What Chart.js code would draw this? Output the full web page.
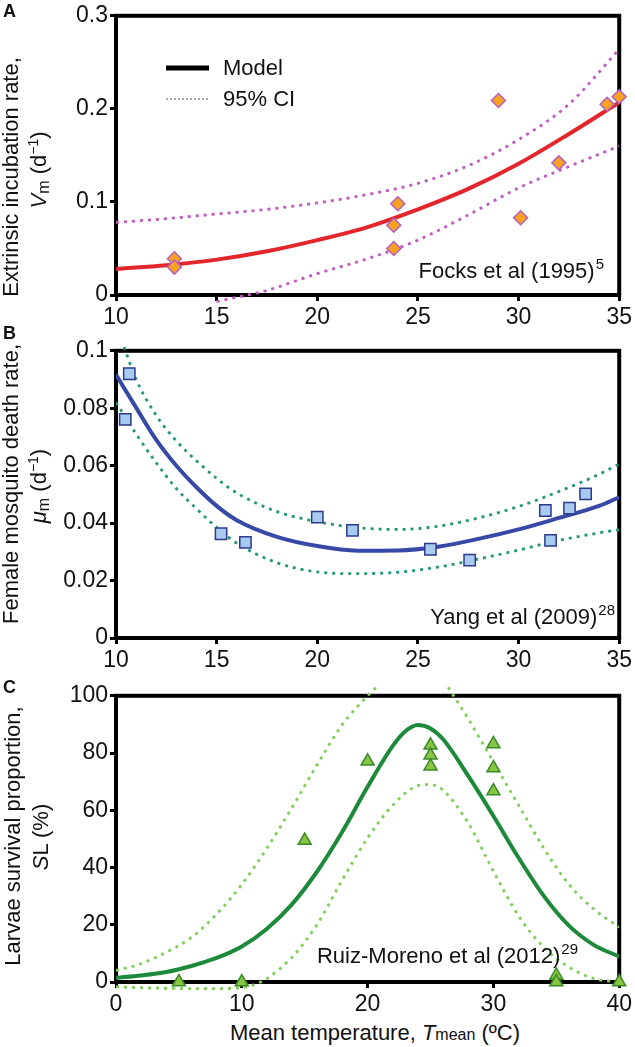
<!DOCTYPE html>
<html>
<head>
<meta charset="utf-8">
<script src="https://cdn.jsdelivr.net/npm/chart.js@4.4.1/dist/chart.umd.min.js"></script>
<style>
  body { margin: 0; background: #fff; }
  #fig { position: relative; width: 635px; height: 1047px; overflow: hidden;
         font-family: "Liberation Sans", Arial, Helvetica, sans-serif; color: #111; }
  canvas { position: absolute; left: 0; }
  .lbl { position: absolute; left: 3px; font-weight: bold; font-size: 18px; line-height: 1; }
  .yt { position: absolute; font-size: 22px; line-height: 1; white-space: nowrap;
        transform: translate(-50%, -50%) rotate(-90deg); }
  .xt { position: absolute; font-size: 22px; line-height: 1; white-space: nowrap;
        transform: translate(-50%, -50%); }
  .sm { font-size: 16px; }
  sup { font-size: 14px; vertical-align: 8px; line-height: 0; }
  sub { font-size: 16px; vertical-align: -3px; line-height: 0; }
</style>
</head>
<body>
<div id="fig">
  <canvas id="chartA" width="635" height="335" style="top:0px"></canvas>
  <canvas id="chartB" width="635" height="345" style="top:335px"></canvas>
  <canvas id="chartC" width="635" height="340" style="top:680px"></canvas>

  <div class="lbl" style="top:2px">A</div>
  <div class="lbl" style="top:324px">B</div>
  <div class="lbl" style="top:678px">C</div>

  <div class="yt" style="left:11px; top:177px">Extrinsic incubation rate,</div>
  <div class="yt" style="left:39px; top:170px"><i>V</i><sub>m</sub> (d<sup>−1</sup>)</div>
  <div class="yt" style="left:11px; top:484px">Female mosquito death rate,</div>
  <div class="yt" style="left:39px; top:486px"><i>μ</i><sub>m</sub> (d<sup>−1</sup>)</div>
  <div class="yt" style="left:13px; top:836px">Larvae survival proportion,</div>
  <div class="yt" style="left:41px; top:837px"><i>S</i>L (%)</div>
  <div class="xt" style="left:375px; top:1033px">Mean temperature, <i>T</i><span class="sm">mean</span> (ºC)</div>
</div>

<script>
const FONT = '"Liberation Sans", Arial, Helvetica, sans-serif';

// Panel A: extrinsic incubation rate, Focks et al (1995)
const aObsT = [12.9, 12.9, 24.0, 23.8, 23.8, 29.0, 30.1, 32.0, 34.4, 35.0];
const aObsV = [0.039, 0.030, 0.098, 0.075, 0.050, 0.209, 0.083, 0.142, 0.205, 0.213];
const aCurveT = [10, 12.5, 15, 17.5, 20, 22.5, 25, 27.5, 30, 32.5, 35];
const aModel = [0.028, 0.032, 0.038, 0.047, 0.059, 0.073, 0.092, 0.114, 0.141, 0.173, 0.207];
const aUpper = [0.078, 0.082, 0.087, 0.092, 0.099, 0.108, 0.120, 0.139, 0.167, 0.205, 0.264];
const aLower = [null, null, -0.007, 0.005, 0.023, 0.039, 0.059, 0.086, 0.115, 0.138, 0.160];
const aXLabels = ['10', '15', '20', '25', '30', '35'];
const aYLabels = ['0', '0.1', '0.2', '0.3'];

// Panel B: female mosquito death rate, Yang et al (2009)
const bObsT = [10.66, 10.46, 15.22, 16.43, 20.0, 21.75, 25.62, 27.57, 31.33, 31.59, 32.53, 33.33];
const bObsV = [0.0920, 0.0761, 0.0363, 0.0333, 0.0421, 0.0375, 0.0309, 0.0271, 0.0444, 0.0340, 0.0452, 0.0502];
const bCurveT = [10, 11, 12, 13, 14, 15, 16, 18, 20, 22, 24, 26, 28, 30, 32, 34, 35];
const bModel = [0.0917, 0.0802, 0.0690, 0.0600, 0.0525, 0.0460, 0.0410, 0.0352, 0.0320, 0.0304, 0.0305, 0.0318, 0.0345, 0.0378, 0.0418, 0.0460, 0.0490];
const bLower = [0.0820, 0.0710, 0.0610, 0.0520, 0.0450, 0.0385, 0.0330, 0.0262, 0.0230, 0.0224, 0.0229, 0.0247, 0.0275, 0.0306, 0.0340, 0.0366, 0.0377];
const bUpperT = [10.4, 11, 12, 13, 14, 15, 16, 18, 20, 22, 24, 26, 28, 30, 32, 34, 35];
const bUpper = [0.1013, 0.0900, 0.0775, 0.0686, 0.0617, 0.0556, 0.0505, 0.0440, 0.0405, 0.0384, 0.0378, 0.0389, 0.0418, 0.0458, 0.0510, 0.0570, 0.0606];
const bXLabels = ['10', '15', '20', '25', '30', '35'];
const bYLabels = ['0', '0.02', '0.04', '0.06', '0.08', '0.1'];

// Panel C: larvae survival proportion, Ruiz-Moreno et al (2012)
const cObsT = [5, 10, 15, 20, 25, 25, 25, 30, 30, 30, 35, 35, 40];
const cObsS = [0, 0, 49.4, 77.1, 82.7, 79.2, 75.4, 83.2, 74.8, 66.7, 2.3, 0, 0];
const cModelT = [0, 2, 4, 6, 8, 10, 12, 14, 16, 18, 20, 22, 23, 24, 25, 26, 28, 30, 32, 34, 36, 38, 40];
const cModel = [1.5, 2.3, 3.5, 5.6, 8.4, 12.4, 18.6, 27.2, 38.7, 52.6, 68.2, 82.5, 87.6, 89.8, 88.6, 84.8, 72.0, 58.0, 43.4, 30.1, 19.7, 12.9, 8.9];
const cUpperT = [0, 2, 4, 6, 8, 10, 12, 14, 16, 18, 20, 20.7, 23, 26.4, 28, 30, 32, 34, 36, 38, 40];
const cUpper = [4.0, 6.4, 10.4, 15.6, 23.7, 34.1, 46.8, 61.0, 76.0, 90.0, 100.0, 103.0, null, 103.0, 91.9, 76.9, 61.8, 46.8, 34.1, 25.4, 19.1];
const cLowerT = [0, 2, 4, 6, 8, 10, 11.5, 12, 14, 16, 18, 20, 22, 24, 25, 26, 28, 30, 32, 34, 36, 38, 40];
const cLower = [-1.7, -2.0, -2.2, -2.3, -2.3, -2.0, 0, 1.2, 8.7, 20.2, 35.8, 50.3, 61.8, 68.6, 69.0, 67.0, 55.5, 38.7, 23.1, 12.1, 5.2, 1.2, 0];
const cXLabels = ['0', '10', '20', '30', '40'];
const cYLabels = ['0', '20', '40', '60', '80', '100'];

function pts(xs, ys) {
  return xs.map((x, i) => ({ x: x, y: ys[i] }));
}

function obsSet(xs, ys, style, radius, fill, edge) {
  return { data: pts(xs, ys), pointStyle: style, pointRadius: radius, pointHoverRadius: radius,
           backgroundColor: fill, borderColor: edge, pointBorderWidth: 1.5, clip: false };
}

function modelSet(xs, ys, color) {
  return { data: pts(xs, ys), showLine: true, pointRadius: 0, borderColor: color,
           borderWidth: 4, cubicInterpolationMode: 'monotone', clip: 0 };
}

function ciSet(xs, ys, color) {
  return { data: pts(xs, ys), showLine: true, pointRadius: 0, borderColor: color,
           borderWidth: 2.8, borderDash: [3, 5], cubicInterpolationMode: 'monotone',
           clip: { left: 0, right: 0, top: 10, bottom: 8 } };
}

// thick black box round the plot area
const framePlugin = {
  id: 'frame',
  beforeDatasetsDraw(chart) {
    const { ctx, chartArea: a } = chart;
    ctx.save();
    ctx.strokeStyle = '#000';
    ctx.lineWidth = 4;
    ctx.strokeRect(a.left, a.top, a.right - a.left, a.bottom - a.top);
    ctx.restore();
  }
};

// citation text with a superscript reference number, right aligned
function citation(text, sup, rightX, baseY) {
  return {
    id: 'cite',
    afterDatasetsDraw(chart) {
      const ctx = chart.ctx;
      ctx.save();
      ctx.fillStyle = '#111';
      ctx.textBaseline = 'alphabetic';
      ctx.font = '22px ' + FONT;
      const w1 = ctx.measureText(text).width;
      ctx.font = '15px ' + FONT;
      const w2 = ctx.measureText(sup).width;
      const x0 = rightX - w1 - w2 - 1;
      ctx.font = '22px ' + FONT;
      ctx.fillText(text, x0, baseY);
      ctx.font = '15px ' + FONT;
      ctx.fillText(sup, x0 + w1 + 1, baseY - 9);
      ctx.restore();
    }
  };
}

// legend of panel A
const legendPlugin = {
  id: 'legendA',
  afterDatasetsDraw(chart) {
    const ctx = chart.ctx;
    ctx.save();
    ctx.strokeStyle = '#000';
    ctx.lineWidth = 5;
    ctx.beginPath(); ctx.moveTo(166, 68); ctx.lineTo(209, 68); ctx.stroke();
    ctx.strokeStyle = '#aaaaaa';
    ctx.lineWidth = 2;
    ctx.setLineDash([2, 2]);
    ctx.beginPath(); ctx.moveTo(166, 99); ctx.lineTo(209, 99); ctx.stroke();
    ctx.fillStyle = '#111';
    ctx.font = '22px ' + FONT;
    ctx.textBaseline = 'middle';
    ctx.fillText('Model', 223, 69);
    ctx.fillText('95% CI', 223, 100);
    ctx.restore();
  }
};

function makePanel(id, cfg) {
  const tickFont = { family: FONT, size: 23 };
  return new Chart(document.getElementById(id), {
    type: 'scatter',
    data: { datasets: cfg.datasets },
    options: {
      responsive: false,
      animation: false,
      devicePixelRatio: 1,
      layout: { padding: { top: cfg.padTop, right: 12, left: 0, bottom: 0 } },
      plugins: { legend: { display: false }, tooltip: { enabled: false } },
      scales: {
        x: {
          type: 'linear', position: 'bottom', min: cfg.xMin, max: cfg.xMax,
          border: { display: false },
          grid: { drawOnChartArea: false, drawTicks: true, tickLength: 6, tickWidth: 3, tickColor: '#000' },
          ticks: { stepSize: cfg.xStep, autoSkip: false, maxRotation: 0, padding: 3, color: '#111',
                   font: tickFont, callback: (v, i) => cfg.xLabels[i] },
          afterFit: s => { s.height = cfg.xAxisH; }
        },
        y: {
          type: 'linear', min: cfg.yMin, max: cfg.yMax,
          border: { display: false },
          grid: { drawOnChartArea: false, drawTicks: true, tickLength: 6, tickWidth: 3, tickColor: '#000' },
          ticks: { stepSize: cfg.yStep, autoSkip: false, padding: 2, color: '#111',
                   font: tickFont, callback: (v, i) => cfg.yLabels[i] },
          afterFit: s => { s.width = 116; }
        }
      }
    },
    plugins: [framePlugin].concat(cfg.plugins)
  });
}

makePanel('chartA', {
  padTop: 8, xAxisH: 40,
  xMin: 10, xMax: 35, xStep: 5, xLabels: aXLabels,
  yMin: 0, yMax: 0.3, yStep: 0.1, yLabels: aYLabels,
  datasets: [
    obsSet(aObsT, aObsV, 'rectRot', 7, '#f7a21e', '#b35fc4'),
    modelSet(aCurveT, aModel, '#e3262b'),
    ciSet(aCurveT, aUpper, '#c05cc0'),
    ciSet(aCurveT, aLower, '#c05cc0')
  ],
  plugins: [legendPlugin, citation('Focks et al (1995)', '5', 604, 278)]
});

makePanel('chartB', {
  padTop: 14, xAxisH: 42,
  xMin: 10, xMax: 35, xStep: 5, xLabels: bXLabels,
  yMin: 0, yMax: 0.1, yStep: 0.02, yLabels: bYLabels,
  datasets: [
    obsSet(bObsT, bObsV, 'rect', 8, '#a6cbee', '#2d3a8c'),
    modelSet(bCurveT, bModel, '#3848a6'),
    ciSet(bUpperT, bUpper, '#26967c'),
    ciSet(bCurveT, bLower, '#26967c')
  ],
  plugins: [citation('Yang et al (2009)', '28', 615, 289)]
});

makePanel('chartC', {
  padTop: 13, xAxisH: 38,
  xMin: 0, xMax: 40, xStep: 10, xLabels: cXLabels,
  yMin: 0, yMax: 100, yStep: 20, yLabels: cYLabels,
  datasets: [
    obsSet(cObsT, cObsS, 'triangle', 7.5, '#88c540', '#3b8a2a'),
    modelSet(cModelT, cModel, '#1c8a3a'),
    ciSet(cUpperT, cUpper, '#80cf5a'),
    ciSet(cLowerT, cLower, '#80cf5a')
  ],
  plugins: [citation('Ruiz-Moreno et al (2012)', '29', 578, 283)]
});
</script>
</body>
</html>
